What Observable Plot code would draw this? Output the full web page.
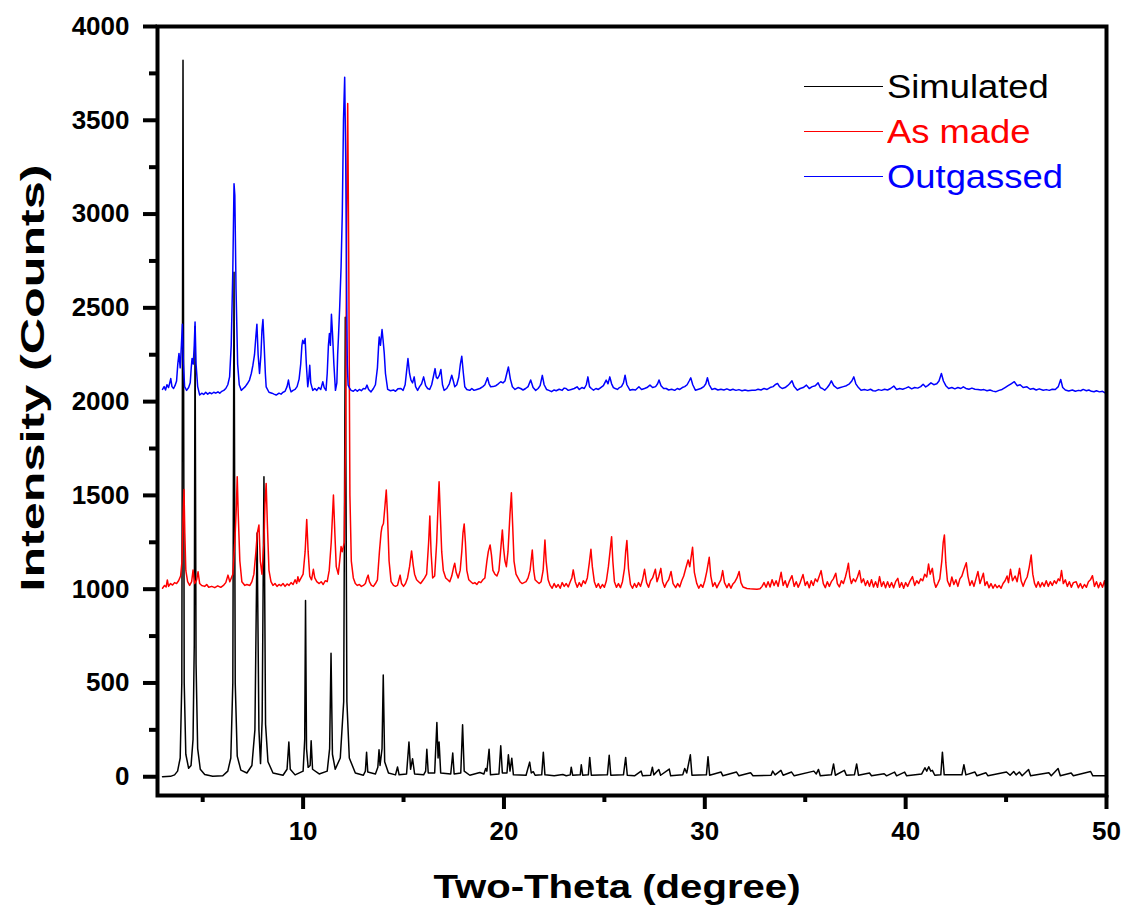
<!DOCTYPE html>
<html><head><meta charset="utf-8">
<script src="https://cdn.jsdelivr.net/npm/d3@7"></script>
<script src="https://cdn.jsdelivr.net/npm/@observablehq/plot@0.6"></script>
<style>
body{margin:0;background:#fff;}
#wrap{position:relative;width:1130px;height:917px;font-family:'Liberation Sans',Arial,sans-serif;}
.legend{position:absolute;left:804px;top:0;}
.row{position:absolute;left:0;display:flex;align-items:center;height:40px;white-space:nowrap;}
.swatch{width:79px;height:0;border-top:1.6px solid;margin-right:4px;}
.lbl{font-size:34px;line-height:40px;display:inline-block;transform:scaleX(1.07);transform-origin:left center;}
</style></head><body><div id="wrap"></div>
<script>
const xTitle = "Two-Theta (degree)";
const yTitle = "Intensity (Counts)";
const seriesNames = ["Simulated", "As made", "Outgassed"];
const seriesColors = ["#000000", "#ff0000", "#0000ff"];
const xMajorTicks = [10, 20, 30, 40, 50];
const xMinorTicks = [5, 15, 25, 35, 45];
const yMajorTicks = [0, 500, 1000, 1500, 2000, 2500, 3000, 3500, 4000];
const yMinorTicks = [250, 750, 1250, 1750, 2250, 2750, 3250, 3750];

// Simulated pattern [2theta, counts]
const simulated = [
[3.0,0],[3.4,2],[3.6,10],[3.75,30],[3.88,100],[3.96,500],[4.02,3820],[4.08,500],[4.16,120],[4.3,45],[4.42,60],[4.52,200],[4.58,700],[4.62,2400],[4.67,600],[4.75,150],[4.88,40],[5.1,12],[5.5,3],[6.0,5],[6.25,30],[6.4,100],[6.5,500],[6.56,2690],[6.62,500],[6.72,110],[6.9,35],[7.2,20],[7.45,60],[7.6,250],[7.71,1300],[7.8,250],[7.88,70],[7.96,300],[8.05,1600],[8.13,280],[8.25,80],[8.5,20],[9.0,8],
[9.2,40],[9.29,185],[9.36,40],[9.6,10],[10.0,30],[10.08,200],[10.12,939],[10.17,150],[10.25,50],[10.35,60],[10.4,192],[10.47,40],[10.8,15],[11.2,30],[11.32,150],[11.39,659],[11.46,120],[11.6,40],[11.85,100],[12.02,400],[12.1,2450],[12.18,400],[12.3,100],[12.6,20],[13.0,8],[13.1,30],[13.16,130],[13.22,25],[13.6,15],[13.72,50],[13.78,144],[13.83,60],[13.93,150],[13.99,543],[14.06,80],[14.25,20],[14.6,10],[14.7,52],[14.78,10],[15.15,15],[15.27,185],[15.35,40],[15.45,96],[15.55,15],[16.0,10],[16.1,30],[16.16,147],[16.23,20],[16.55,20],[16.66,289],[16.72,100],[16.77,185],[16.85,20],[17.35,15],[17.45,126],[17.52,15],[17.85,20],[17.94,277],[18.02,30],[18.3,8],[18.8,23],[19.0,15],[19.09,44],[19.15,30],[19.26,147],[19.33,10],[19.75,15],[19.84,165],[19.92,20],[20.15,20],[20.22,117],[20.3,30],[20.39,99],[20.47,10],[21.1,8],[21.28,78],[21.36,20],[21.46,27],[21.55,8],[21.88,10],[21.96,130],[22.04,10],
[22.5,5],[22.93,12],[23.1,5],[23.3,10],[23.35,51],[23.42,8],[23.8,10],[23.85,64],[23.92,8],[24.2,10],[24.27,103],[24.35,8],[25.15,10],[25.24,114],[25.32,8],[25.95,10],[26.06,103],[26.14,8],[26.5,5],[26.83,30],[26.9,5],[27.3,8],[27.39,51],[27.46,10],[27.71,39],[27.8,8],[28.23,41],[28.3,5],[28.9,10],[29.0,44],[29.1,20],[29.28,117],[29.36,8],[30.08,10],[30.16,107],[30.24,8],[30.81,25],[30.9,5],[31.58,25],[31.7,5],[32.28,21],[32.4,5],[33.3,8],[33.38,30],[33.5,10],[33.79,34],[33.9,8],[34.32,25],[34.45,5],[35.43,30],[35.55,15],[35.66,39],[35.75,5],[36.3,10],[36.41,68],[36.5,8],[36.95,34],[37.05,8],[37.45,10],[37.56,68],[37.65,8],[38.2,20],[38.3,5],[38.93,16],[39.05,5],[39.45,25],[39.55,5],[39.95,25],[40.05,5],[40.8,15],[40.96,48],[41.05,30],[41.15,53],[41.25,30],[41.33,34],[41.45,8],[41.75,10],[41.83,131],[41.92,10],[42.8,10],[42.9,64],[43.0,10],[43.45,25],[43.55,5],[44.0,21],[44.1,5],[45.02,25],[45.2,8],[45.38,28],[45.5,10],[45.66,25],[45.8,5],[46.12,39],[46.22,5],[47.13,21],[47.25,5],[47.59,44],[47.7,5],[48.24,20],[48.35,5],[49.21,28],[49.32,5],[50,5]
];

// As made pattern
const asMade = [
[3.0,1005],[3.1,1020],[3.18,1012],[3.24,1049],[3.3,1015],[3.4,1030],[3.5,1022],[3.6,1035],[3.7,1030],[3.8,1045],[3.9,1070],[3.97,1150],[4.03,1400],[4.07,1532],[4.11,1300],[4.16,1100],[4.25,1040],[4.35,1020],[4.45,1040],[4.52,1102],[4.6,1030],[4.7,1050],[4.77,1093],[4.85,1030],[4.95,1020],[5.1,1015],[5.2,1025],[5.3,1010],[5.45,1015],[5.6,1008],[5.75,1018],[5.9,1010],[6.05,1022],[6.15,1035],[6.26,1075],[6.35,1040],[6.5,1080],[6.6,1250],[6.68,1450],[6.72,1600],[6.77,1400],[6.85,1150],[6.95,1040],[7.1,1020],[7.2,1025],[7.35,1020],[7.45,1040],[7.55,1080],[7.65,1200],[7.72,1300],[7.8,1342],[7.87,1150],[7.95,1080],[8.05,1250],[8.1,1450],[8.16,1564],[8.22,1350],[8.3,1100],[8.4,1040],[8.5,1020],[8.6,1030],[8.7,1015],[8.8,1025],[8.9,1018],[9.0,1030],[9.1,1015],[9.2,1028],[9.3,1020],[9.4,1035],[9.5,1025],[9.6,1050],[9.68,1030],[9.74,1066],[9.8,1040],[9.9,1060],[10.0,1080],[10.1,1200],[10.18,1372],[10.25,1200],[10.33,1070],[10.42,1050],[10.51,1106],[10.58,1060],[10.68,1040],[10.8,1030],[10.9,1040],[11.0,1025],[11.1,1045],[11.2,1040],[11.3,1100],[11.4,1250],[11.51,1502],[11.58,1300],[11.65,1120],[11.75,1080],[11.82,1150],[11.89,1227],[11.95,1200],[12.05,1250],[12.12,1900],[12.17,3000],[12.22,3590],[12.27,2800],[12.33,1500],[12.4,1150],[12.5,1060],[12.6,1030],[12.7,1020],[12.8,1025],[12.9,1015],[13.0,1020],[13.1,1030],[13.18,1060],[13.24,1075],[13.3,1040],[13.4,1020],[13.5,1015],[13.6,1030],[13.7,1050],[13.8,1200],[13.88,1300],[13.93,1333],[14.0,1350],[14.08,1450],[14.14,1529],[14.2,1400],[14.28,1150],[14.38,1040],[14.5,1020],[14.6,1015],[14.7,1020],[14.77,1050],[14.83,1075],[14.9,1030],[15.0,1015],[15.1,1030],[15.2,1060],[15.3,1120],[15.4,1204],[15.48,1130],[15.55,1080],[15.65,1050],[15.75,1040],[15.85,1030],[15.95,1045],[16.05,1060],[16.15,1080],[16.25,1250],[16.31,1390],[16.37,1200],[16.45,1060],[16.55,1070],[16.65,1250],[16.72,1450],[16.77,1573],[16.83,1400],[16.9,1200],[16.98,1100],[17.1,1060],[17.2,1050],[17.3,1040],[17.4,1070],[17.5,1120],[17.55,1138],[17.62,1090],[17.72,1060],[17.82,1100],[17.9,1200],[17.96,1300],[18.02,1348],[18.08,1250],[18.15,1100],[18.25,1050],[18.35,1040],[18.45,1030],[18.55,1035],[18.65,1025],[18.75,1040],[18.85,1035],[18.95,1050],[19.05,1060],[19.15,1150],[19.22,1200],[19.31,1236],[19.38,1180],[19.45,1100],[19.55,1080],[19.65,1070],[19.75,1100],[19.83,1200],[19.92,1316],[19.98,1220],[20.05,1150],[20.12,1120],[20.2,1200],[20.3,1400],[20.37,1514],[20.43,1350],[20.5,1150],[20.6,1080],[20.7,1060],[20.8,1040],[20.9,1030],[21.0,1035],[21.1,1040],[21.2,1060],[21.3,1100],[21.41,1209],[21.48,1100],[21.55,1050],[21.65,1040],[21.75,1030],[21.85,1040],[21.95,1100],[22.04,1262],[22.1,1150],[22.2,1050],
[22.3,1020],[22.4,1005],[22.5,1030],[22.6,1010],[22.7,1025],[22.8,1005],[22.9,1035],[23.0,1015],[23.1,1030],[23.2,1012],[23.3,1040],[23.38,1060],[23.45,1103],[23.55,1040],[23.65,1010],[23.75,1035],[23.85,1015],[23.95,1045],[24.05,1030],[24.15,1060],[24.25,1140],[24.33,1213],[24.4,1120],[24.5,1040],[24.6,1010],[24.7,1030],[24.8,1005],[24.9,1025],[25.0,1010],[25.1,1045],[25.2,1120],[25.28,1200],[25.36,1280],[25.42,1150],[25.5,1040],[25.6,1010],[25.7,1030],[25.8,1008],[25.9,1040],[26.0,1110],[26.06,1200],[26.12,1259],[26.2,1110],[26.3,1025],[26.4,1005],[26.5,1030],[26.6,1010],[26.7,1035],[26.8,1015],[26.9,1050],[27.0,1106],[27.1,1035],[27.2,1010],[27.3,1045],[27.4,1060],[27.54,1106],[27.62,1040],[27.7,1065],[27.81,1111],[27.9,1040],[28.0,1010],[28.1,1035],[28.2,1050],[28.32,1094],[28.42,1030],[28.55,1008],[28.65,1030],[28.75,1012],[28.85,1045],[28.95,1070],[29.05,1110],[29.17,1156],[29.25,1120],[29.39,1223],[29.48,1090],[29.6,1030],[29.7,1005],[29.8,1025],[29.9,1010],[30.0,1045],[30.1,1095],[30.22,1170],[30.3,1070],[30.4,1015],[30.5,1035],[30.6,1008],[30.7,1030],[30.8,1050],[30.89,1099],[30.98,1035],[31.1,1008],[31.2,1030],[31.3,1005],[31.4,1028],[31.5,1040],[31.6,1060],[31.71,1094],[31.8,1035],[31.9,1012],[32.0,1008],[32.1,1004],[32.25,1002],[32.4,1001],[32.6,1000],[32.75,1002],[32.85,1015],[32.95,1035],[33.05,1010],[33.15,1040],[33.25,1012],[33.35,1050],[33.45,1020],[33.55,1045],[33.65,1015],[33.8,1090],[33.9,1020],[34.0,1045],[34.1,1010],[34.2,1040],[34.34,1072],[34.45,1015],[34.55,1040],[34.65,1010],[34.75,1035],[34.89,1078],[35.0,1020],[35.1,1040],[35.2,1008],[35.3,1045],[35.4,1020],[35.5,1055],[35.6,1040],[35.7,1070],[35.79,1099],[35.9,1030],[36.0,1008],[36.1,1040],[36.2,1015],[36.3,1040],[36.4,1055],[36.52,1085],[36.6,1030],[36.7,1012],[36.8,1045],[36.9,1030],[37.0,1065],[37.08,1100],[37.15,1138],[37.22,1065],[37.3,1030],[37.4,1055],[37.5,1040],[37.6,1065],[37.7,1099],[37.8,1035],[37.9,1055],[38.0,1020],[38.1,1045],[38.2,1015],[38.3,1050],[38.4,1012],[38.5,1040],[38.6,1010],[38.7,1067],[38.8,1015],[38.9,1040],[39.0,1008],[39.1,1040],[39.2,1010],[39.3,1035],[39.4,1008],[39.5,1040],[39.61,1058],[39.7,1010],[39.8,1035],[39.9,1005],[40.0,1035],[40.1,1015],[40.2,1040],[40.34,1067],[40.45,1020],[40.55,1045],[40.65,1030],[40.75,1055],[40.85,1045],[40.95,1080],[41.05,1065],[41.14,1134],[41.22,1080],[41.33,1111],[41.42,1040],[41.5,1010],[41.6,1030],[41.7,1055],[41.8,1150],[41.87,1250],[41.93,1289],[42.0,1140],[42.08,1045],[42.2,1015],[42.3,1065],[42.4,1025],[42.5,1050],[42.6,1015],[42.7,1055],[42.8,1070],[42.9,1105],[43.02,1141],[43.1,1070],[43.2,1020],[43.3,1045],[43.4,1015],[43.5,1055],[43.6,1094],[43.7,1030],[43.87,1085],[43.95,1020],[44.05,1040],[44.15,1008],[44.25,1030],[44.35,1005],[44.45,1025],[44.55,1008],[44.65,1020],[44.75,1005],[44.85,1030],[44.95,1045],[45.05,1070],[45.12,1035],[45.22,1106],[45.32,1045],[45.45,1070],[45.55,1040],[45.67,1111],[45.75,1045],[45.85,1015],[45.95,1045],[46.05,1065],[46.15,1115],[46.25,1182],[46.33,1080],[46.42,1030],[46.5,1010],[46.6,1040],[46.7,1012],[46.8,1035],[46.9,1015],[47.0,1045],[47.1,1015],[47.2,1040],[47.3,1020],[47.4,1045],[47.5,1030],[47.6,1055],[47.68,1045],[47.76,1099],[47.85,1030],[47.95,1050],[48.05,1015],[48.15,1040],[48.25,1010],[48.35,1035],[48.49,1040],[48.6,1008],[48.7,1030],[48.8,1005],[48.9,1025],[49.0,1010],[49.1,1040],[49.2,1050],[49.3,1072],[49.4,1015],[49.5,1040],[49.6,1008],[49.7,1035],[49.8,1010],[49.9,1045],[49.95,1015]
];

// Outgassed pattern
const outgassed = [
[3.0,2065],[3.08,2080],[3.15,2062],[3.22,2090],[3.3,2075],[3.36,2100],[3.41,2123],[3.47,2080],[3.55,2070],[3.62,2085],[3.7,2110],[3.76,2200],[3.82,2257],[3.88,2180],[3.94,2300],[3.99,2413],[4.04,2200],[4.1,2080],[4.2,2060],[4.3,2075],[4.38,2100],[4.43,2180],[4.47,2230],[4.53,2200],[4.58,2300],[4.62,2425],[4.67,2200],[4.75,2080],[4.85,2035],[4.95,2045],[5.05,2038],[5.15,2050],[5.25,2040],[5.35,2048],[5.45,2042],[5.55,2050],[5.65,2045],[5.76,2052],[5.85,2045],[5.95,2055],[6.05,2060],[6.15,2070],[6.25,2090],[6.34,2132],[6.42,2300],[6.5,2700],[6.56,3162],[6.6,3100],[6.66,2600],[6.74,2200],[6.82,2090],[6.92,2060],[7.02,2070],[7.12,2080],[7.22,2095],[7.33,2115],[7.42,2150],[7.5,2194],[7.58,2250],[7.65,2350],[7.7,2413],[7.76,2250],[7.83,2150],[7.9,2250],[7.95,2380],[8.0,2438],[8.06,2300],[8.12,2150],[8.16,2079],[8.3,2050],[8.45,2045],[8.55,2040],[8.66,2035],[8.8,2045],[8.9,2040],[9.0,2050],[9.1,2055],[9.2,2080],[9.27,2115],[9.33,2075],[9.4,2052],[9.5,2060],[9.6,2065],[9.7,2080],[9.8,2120],[9.88,2200],[9.94,2300],[9.98,2327],[10.04,2310],[10.1,2336],[10.16,2200],[10.23,2079],[10.28,2120],[10.33,2194],[10.38,2100],[10.48,2060],[10.58,2070],[10.68,2060],[10.78,2075],[10.88,2065],[10.98,2106],[11.05,2075],[11.14,2060],[11.2,2150],[11.26,2300],[11.31,2363],[11.36,2300],[11.41,2466],[11.47,2350],[11.53,2203],[11.61,2060],[11.68,2100],[11.72,2250],[11.76,2345],[11.82,2500],[11.89,2718],[11.95,3000],[12.01,3500],[12.07,3730],[12.12,3300],[12.16,2700],[12.2,2200],[12.24,2088],[12.32,2070],[12.39,2060],[12.5,2055],[12.6,2065],[12.7,2055],[12.8,2065],[12.9,2058],[13.0,2070],[13.1,2068],[13.18,2088],[13.26,2065],[13.38,2052],[13.5,2070],[13.6,2090],[13.7,2180],[13.76,2300],[13.79,2345],[13.85,2300],[13.93,2384],[13.98,2330],[14.04,2257],[14.1,2150],[14.21,2065],[14.35,2058],[14.5,2062],[14.6,2055],[14.72,2068],[14.87,2070],[14.98,2060],[15.08,2090],[15.15,2160],[15.22,2230],[15.3,2150],[15.37,2115],[15.45,2100],[15.53,2132],[15.6,2080],[15.7,2060],[15.8,2080],[15.9,2095],[16.0,2132],[16.1,2085],[16.2,2070],[16.3,2065],[16.4,2090],[16.48,2130],[16.57,2176],[16.63,2130],[16.69,2123],[16.78,2140],[16.86,2171],[16.94,2090],[17.02,2060],[17.15,2070],[17.28,2095],[17.4,2141],[17.48,2110],[17.55,2079],[17.65,2090],[17.75,2130],[17.83,2200],[17.9,2242],[17.98,2150],[18.05,2079],[18.15,2065],[18.3,2060],[18.4,2070],[18.51,2060],[18.65,2065],[18.8,2070],[18.95,2080],[19.05,2090],[19.18,2127],[19.26,2095],[19.34,2079],[19.45,2080],[19.6,2085],[19.72,2095],[19.84,2106],[19.95,2100],[20.05,2110],[20.14,2150],[20.22,2185],[20.32,2120],[20.42,2079],[20.55,2065],[20.7,2075],[20.83,2070],[20.95,2062],[21.08,2070],[21.2,2080],[21.33,2115],[21.45,2075],[21.58,2060],[21.7,2070],[21.8,2085],[21.91,2140],[22.0,2090],[22.12,2065],[22.24,2060],[22.37,2053],[22.5,2062],[22.6,2058],[22.75,2066],[22.9,2060],[23.0,2072],[23.09,2070],[23.2,2060],[23.35,2065],[23.5,2070],[23.64,2079],[23.75,2065],[23.88,2075],[24.0,2070],[24.1,2090],[24.18,2132],[24.26,2080],[24.35,2070],[24.46,2061],[24.58,2070],[24.7,2065],[24.82,2075],[24.95,2085],[25.09,2115],[25.18,2095],[25.27,2132],[25.36,2095],[25.45,2075],[25.54,2070],[25.65,2065],[25.75,2075],[25.85,2080],[25.95,2100],[26.03,2141],[26.12,2090],[26.27,2061],[26.4,2065],[26.55,2062],[26.72,2079],[26.85,2065],[27.0,2070],[27.12,2075],[27.27,2088],[27.4,2075],[27.55,2080],[27.65,2095],[27.72,2115],[27.82,2085],[27.95,2070],[28.08,2070],[28.2,2062],[28.35,2066],[28.5,2060],[28.63,2070],[28.75,2065],[28.88,2075],[29.0,2080],[29.12,2090],[29.22,2110],[29.3,2127],[29.4,2090],[29.53,2061],[29.65,2065],[29.8,2070],[29.95,2080],[30.05,2095],[30.13,2127],[30.22,2090],[30.35,2065],[30.5,2070],[30.65,2062],[30.8,2066],[30.95,2062],[31.1,2068],[31.26,2061],[31.4,2066],[31.55,2060],[31.7,2064],[31.85,2058],[32.0,2062],[32.15,2058],[32.35,2061],[32.5,2060],[32.65,2066],[32.8,2062],[32.95,2070],[33.1,2065],[33.25,2075],[33.4,2080],[33.5,2090],[33.62,2097],[33.72,2080],[33.85,2070],[34.0,2075],[34.12,2085],[34.22,2095],[34.34,2111],[34.45,2080],[34.61,2061],[34.75,2070],[34.9,2075],[35.06,2088],[35.2,2070],[35.35,2080],[35.5,2085],[35.64,2100],[35.75,2075],[35.85,2070],[35.97,2061],[36.1,2075],[36.2,2090],[36.3,2111],[36.42,2085],[36.6,2070],[36.75,2075],[36.9,2080],[37.05,2085],[37.2,2095],[37.32,2110],[37.42,2132],[37.52,2095],[37.65,2075],[37.78,2061],[37.95,2065],[38.1,2060],[38.25,2066],[38.38,2058],[38.51,2057],[38.65,2064],[38.8,2060],[38.95,2066],[39.1,2062],[39.25,2070],[39.41,2083],[39.55,2065],[39.7,2070],[39.85,2066],[40.0,2072],[40.14,2079],[40.3,2068],[40.45,2075],[40.6,2072],[40.75,2080],[40.87,2093],[41.0,2078],[41.1,2085],[41.26,2100],[41.4,2090],[41.55,2095],[41.66,2110],[41.78,2150],[41.88,2110],[42.0,2085],[42.14,2070],[42.3,2075],[42.45,2068],[42.6,2075],[42.75,2070],[42.87,2079],[43.0,2070],[43.15,2066],[43.3,2072],[43.45,2066],[43.6,2065],[43.75,2062],[43.9,2064],[44.05,2058],[44.2,2062],[44.35,2056],[44.5,2053],[44.65,2060],[44.8,2065],[44.95,2075],[45.1,2085],[45.25,2095],[45.41,2106],[45.55,2085],[45.7,2090],[45.85,2075],[46.04,2079],[46.2,2066],[46.35,2070],[46.5,2062],[46.65,2068],[46.85,2061],[47.0,2064],[47.15,2060],[47.3,2066],[47.45,2065],[47.6,2080],[47.72,2118],[47.82,2075],[47.95,2062],[48.12,2057],[48.3,2062],[48.45,2055],[48.6,2060],[48.72,2058],[48.84,2065],[49.0,2058],[49.12,2062],[49.25,2055],[49.38,2053],[49.5,2058],[49.65,2052],[49.8,2055],[49.93,2047]
];

const fmt = d => String(d);

const chart = Plot.plot({
  width: 1130,
  height: 917,
  marginLeft: 157,
  marginRight: 24,
  marginTop: 26,
  marginBottom: 122,
  style: {fontFamily: "'Liberation Sans', Arial, sans-serif", fontWeight: "bold", color: "#000", background: "#fff"},
  x: {domain: [2.75, 50]},
  y: {domain: [-100, 4000]},
  marks: [
    Plot.line(simulated, {x: d => d[0], y: d => d[1], stroke: seriesColors[0], strokeWidth: 1.5}),
    Plot.line(asMade, {x: d => d[0], y: d => d[1], stroke: seriesColors[1], strokeWidth: 1.5}),
    Plot.line(outgassed, {x: d => d[0], y: d => d[1], stroke: seriesColors[2], strokeWidth: 1.5}),
    Plot.axisX({ticks: xMinorTicks, tickSize: 7, strokeWidth: 4, tickFormat: () => "", label: null}),
    Plot.axisX({ticks: xMajorTicks, tickSize: 14, strokeWidth: 4, tickPadding: 12, fontSize: 26, fontWeight: "bold", tickFormat: fmt, label: null}),
    Plot.axisY({ticks: yMinorTicks, tickSize: 8, strokeWidth: 4, tickFormat: () => "", label: null}),
    Plot.axisY({ticks: yMajorTicks, tickSize: 14, strokeWidth: 4, tickPadding: 14, fontSize: 26, fontWeight: "bold", tickFormat: fmt, label: null}),
    Plot.frame({strokeWidth: 4}),
    Plot.text([xTitle], {text: d => d, frameAnchor: "bottom", textAnchor: "middle", dx: -15, dy: 92, fontSize: 34, fontWeight: "bold", lineAnchor: "middle"}),
    Plot.text([yTitle], {text: d => d, frameAnchor: "left", textAnchor: "middle", rotate: -90, dx: -124, dy: -33, fontSize: 34, fontWeight: "bold", lineAnchor: "middle"})
  ]
});

for (const t of chart.querySelectorAll("text")) {
  if (t.textContent === xTitle) { t.setAttribute("textLength", 367); t.setAttribute("lengthAdjust", "spacingAndGlyphs"); }
  if (t.textContent === yTitle) { t.setAttribute("textLength", 427); t.setAttribute("lengthAdjust", "spacingAndGlyphs"); }
}

const wrap = document.getElementById("wrap");
wrap.appendChild(chart);

const legend = document.createElement("div");
legend.className = "legend";
seriesNames.forEach((name, i) => {
  const row = document.createElement("div");
  row.className = "row";
  row.style.top = (66 + i * 45) + "px";
  const sw = document.createElement("div");
  sw.className = "swatch";
  sw.style.borderColor = seriesColors[i];
  const lbl = document.createElement("span");
  lbl.className = "lbl";
  lbl.style.color = seriesColors[i];
  lbl.textContent = name;
  row.appendChild(sw);
  row.appendChild(lbl);
  legend.appendChild(row);
});
wrap.appendChild(legend);
</script></body></html>
